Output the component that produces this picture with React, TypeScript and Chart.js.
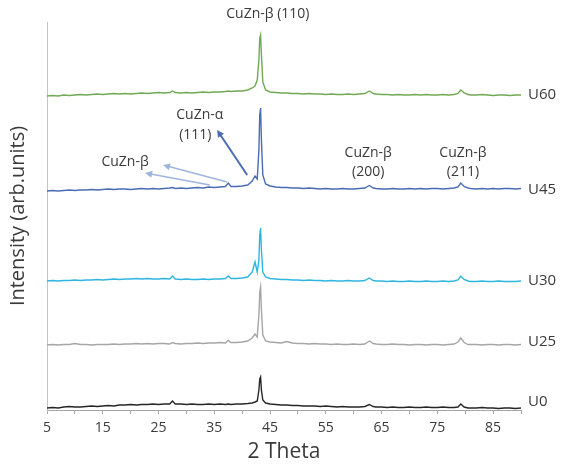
import React, { useEffect, useRef } from "react";
import { Chart, registerables } from "chart.js";

Chart.register(...registerables);

// 2θ positions shared by all patterns
const twoTheta = [
  5, 6, 7, 8, 9, 10, 11, 12, 13, 14, 15, 16, 17, 18, 19, 20, 21, 22, 23, 24, 25, 26, 27,
  27.5,
  28, 29, 30, 31, 32, 33, 34, 35, 36, 37,
  37.5,
  38, 39, 40, 41,
  41.8, 42.3, 42.7, 43.0, 43.15, 43.3, 43.45, 43.7, 44.2,
  45, 46, 47, 48, 49, 50, 51, 52, 53, 54, 55, 56, 57, 58, 59, 60, 61, 62,
  62.8, 63.5,
  64, 65, 66, 67, 68, 69, 70, 71, 72, 73, 74, 75, 76, 77, 78,
  78.7, 79.2, 79.8, 80.5,
  81, 82, 83, 84, 85, 86, 87, 88, 89, 90,
];

// stacked intensities (arb. units, offset patterns as plotted)
const u60 = [
  314, 314.5, 314, 315, 314.5, 315, 315.5, 315, 315.5, 316, 315.5, 316, 316.5, 316, 316.5, 316, 316.5, 317, 316.5, 317, 317.5, 317, 317.5,
  319,
  317.5, 317, 317.5, 317, 317.5, 318, 317.5, 318, 318, 318.5,
  319,
  318.5, 319, 319, 320,
  322, 324, 330, 350, 372, 375, 355, 328, 320,
  318, 317.5, 317, 317, 316.5, 316.5, 316, 316.5, 316, 316, 315.5, 316, 315.5, 315.5, 316, 315.5, 316, 316.5,
  319, 316.5,
  316, 315.5, 315.5, 315, 315.5, 315, 315, 315.5, 315, 315.5, 315, 315, 315.5, 315, 315.5,
  316.5, 320, 317, 315.5,
  315, 315, 315.5, 315, 314.5, 315, 315, 314.5, 315, 315,
];
const u45 = [
  219, 219.5, 219, 219.5, 220, 219.5, 220, 220, 220.5, 220, 220.5, 221, 220.5, 221, 221, 220.5, 221, 221.5, 221, 221.5, 221, 221.5, 222,
  222.5,
  221.5, 222, 221.5, 222, 222.5, 222, 223, 222.5, 223, 223.5,
  227,
  223.5, 223.5, 224, 225,
  229, 234, 231, 260, 295, 302, 270, 235, 226,
  224, 223, 222.5, 222.5, 222, 222, 221.5, 222, 221.5, 221, 221.5, 221, 221, 221.5, 221, 221, 221.5, 222,
  224.5, 222,
  221.5, 221, 221, 221.5, 221, 221, 221.5, 221, 221.5, 221, 221.5, 221.5, 221, 221.5, 222,
  223, 227, 223.5, 222,
  221.5, 221, 221.5, 221, 221.5, 221, 221.5, 221.5, 221, 221.5,
];
const u30 = [
  129, 129.5, 129, 129.5, 129.5, 130, 129.5, 130, 130, 130.5, 130, 130.5, 131, 130.5, 131, 131, 131.5, 131, 131.5, 131, 131, 131.5, 131,
  134,
  131, 130.5, 131, 130.5, 130.5, 131, 130.5, 131, 131, 131.5,
  134,
  131.5, 131.5, 132, 133,
  138, 148, 138, 150, 175, 182, 160, 138, 133,
  131.5, 131, 130.5, 130.5, 130, 130, 129.5, 130, 129.5, 129.5, 129, 129.5, 129, 129, 129.5, 129, 129, 129.5,
  132, 129.5,
  129, 129, 128.5, 129, 128.5, 128.5, 129, 128.5, 128.5, 129, 128.5, 128.5, 129, 128.5, 129,
  130, 134, 130.5, 129,
  128.5, 128.5, 129, 128.5, 128.5, 129, 128.5, 128.5, 128.5, 129,
];
const u25 = [
  65, 65.5, 65, 65.5, 65.5, 66.5, 65.5, 65.5, 65, 65.5, 65.5, 65.5, 66, 65.5, 66, 66, 66.5, 66, 66.5, 66, 66.5, 66.5, 66,
  67.5,
  66.5, 66, 66.5, 66.5, 67, 66.5, 67, 67, 67.5, 67,
  69.5,
  67.5, 67.5, 68, 69,
  72, 76, 73, 95, 118, 123, 100, 75, 69,
  68, 67.5, 67, 68.5, 67, 66.5, 66.5, 66, 66.5, 66, 66, 65.5, 66, 65.5, 65.5, 66, 65.5, 66,
  69, 66.5,
  66, 65.5, 65.5, 66, 65.5, 65.5, 65, 65.5, 65.5, 65, 65.5, 65.5, 65, 65.5, 66,
  68, 72, 67.5, 65.5,
  65.5, 65.5, 65, 65.5, 65.5, 65, 65.5, 65.5, 65, 65.5,
];
const u0 = [
  2, 2.5, 2, 3, 3.5, 3, 3, 3.5, 4, 3.5, 4, 4.5, 4, 5, 5, 5.5, 5, 5.5, 5.5, 6, 5.5, 6, 6,
  9,
  6, 6, 5.5, 6, 5.5, 5.5, 6, 5.5, 6, 5.5,
  6,
  5.5, 6, 6, 6.5,
  7, 8, 9, 20, 31, 33, 20, 10, 7,
  6, 5.5, 5, 5, 4.5, 4.5, 4, 4, 4, 3.5, 4, 3.5, 3, 3.5, 3, 3, 3, 3.5,
  5.5, 3.5,
  3, 3, 2.5, 3, 2.5, 2.5, 3, 2.5, 2.5, 3, 2.5, 2.5, 3, 2.5, 2.5,
  3, 6, 3, 2,
  2, 2, 2.5, 2, 2, 1.5, 2, 2, 1.5, 2,
];

const seriesNames = ["U60", "U45", "U30", "U25", "U0"];
const seriesValues = [u60, u45, u30, u25, u0];
const seriesColors = ["#72a955", "#4a6cb3", "#2fb6e0", "#a6a6a6", "#262626"];
const labelLevels = [315, 220, 129, 68, 8];

const xTickLabels = [5, 15, 25, 35, 45, 55, 65, 75, 85];

// peak annotations (text, 2θ, level)
const annotTexts = ["CuZn-β (110)", "CuZn-α", "(111)", "CuZn-β", "CuZn-β", "(200)", "CuZn-β", "(211)"];
const annotX = [44.6, 32.4, 31.6, 19.0, 62.6, 62.6, 79.6, 79.6];
const annotY = [396, 295, 275, 248, 257, 238, 257, 238];

// arrows (from -> to, in 2θ / level)
const arrowFromX = [40.9, 37.3, 34.2];
const arrowFromY = [235, 228, 225];
const arrowToX = [35.5, 25.8, 22.6];
const arrowToY = [280, 245, 237];
const arrowColors = ["#4a6cb3", "#9fb5de", "#9fb5de"];
const arrowWidths = [2, 1.5, 1.5];

const TEXT = "#3a3a3a";
const FONT = '"Open Sans", "DejaVu Sans", sans-serif';

const annotPlugin = {
  id: "annot",
  afterDraw(chart: any) {
    const { ctx, chartArea } = chart;
    const xs = chart.scales.x;
    const ys = chart.scales.y;
    ctx.save();
    ctx.fillStyle = TEXT;
    ctx.textBaseline = "middle";
    ctx.textAlign = "left";
    ctx.font = `15px ${FONT}`;
    seriesNames.forEach((n, i) => {
      ctx.fillText(n, chartArea.right + 7, ys.getPixelForValue(labelLevels[i]));
    });
    ctx.textAlign = "center";
    ctx.font = `14px ${FONT}`;
    annotTexts.forEach((t, i) => {
      ctx.fillText(t, xs.getPixelForValue(annotX[i]), ys.getPixelForValue(annotY[i]));
    });
    arrowFromX.forEach((_, i) => {
      const x1 = xs.getPixelForValue(arrowFromX[i]);
      const y1 = ys.getPixelForValue(arrowFromY[i]);
      const x2 = xs.getPixelForValue(arrowToX[i]);
      const y2 = ys.getPixelForValue(arrowToY[i]);
      const ang = Math.atan2(y2 - y1, x2 - x1);
      const head = 7;
      const hw = 3.5;
      ctx.strokeStyle = arrowColors[i];
      ctx.fillStyle = arrowColors[i];
      ctx.lineWidth = arrowWidths[i];
      ctx.beginPath();
      ctx.moveTo(x1, y1);
      ctx.lineTo(x2 - Math.cos(ang) * head * 0.6, y2 - Math.sin(ang) * head * 0.6);
      ctx.stroke();
      ctx.beginPath();
      ctx.moveTo(x2, y2);
      ctx.lineTo(
        x2 - Math.cos(ang) * head - Math.sin(ang) * hw,
        y2 - Math.sin(ang) * head + Math.cos(ang) * hw
      );
      ctx.lineTo(
        x2 - Math.cos(ang) * head + Math.sin(ang) * hw,
        y2 - Math.sin(ang) * head - Math.cos(ang) * hw
      );
      ctx.closePath();
      ctx.fill();
    });
    ctx.restore();
  },
};

export default function App() {
  const canvasRef = useRef<HTMLCanvasElement | null>(null);

  useEffect(() => {
    document.body.style.margin = "0";
    const canvas = canvasRef.current;
    if (!canvas) return;
    const chart = new Chart(canvas, {
      type: "line",
      data: {
        labels: twoTheta,
        datasets: seriesNames.map((name, i) => ({
          label: name,
          data: twoTheta.map((x, j) => ({ x, y: seriesValues[i][j] })),
          borderColor: seriesColors[i],
          backgroundColor: seriesColors[i],
          borderWidth: 1.4,
          pointRadius: 0,
          tension: 0,
          fill: false,
        })),
      },
      options: {
        animation: false,
        responsive: true,
        maintainAspectRatio: false,
        layout: { padding: { left: 0, right: 42, top: 22, bottom: 0 } },
        plugins: {
          legend: { display: false },
          tooltip: { enabled: false },
          title: { display: false },
        },
        scales: {
          x: {
            type: "linear",
            min: 5,
            max: 90,
            afterFit: (scale: any) => {
              scale.height = 55;
            },
            grid: {
              display: true,
              drawOnChartArea: false,
              drawTicks: true,
              tickLength: 4,
              color: "#a6a6a6",
            },
            border: { display: true, color: "#a6a6a6", width: 1 },
            ticks: {
              stepSize: 5,
              autoSkip: false,
              maxRotation: 0,
              padding: 6,
              color: TEXT,
              font: { size: 14, family: FONT },
              callback: (v: any) => (xTickLabels.includes(Number(v)) ? String(v) : ""),
            },
            title: {
              display: true,
              text: "2 Theta",
              color: TEXT,
              font: { size: 21, family: FONT },
              padding: { top: 0, bottom: 0 },
            },
          },
          y: {
            type: "linear",
            min: 0,
            max: 388,
            afterFit: (scale: any) => {
              scale.width = 47;
            },
            grid: { display: false, drawTicks: false },
            border: { display: true, color: "#c4c4c4", width: 1 },
            ticks: { display: false },
            title: {
              display: true,
              text: "Intensity (arb.units)",
              color: TEXT,
              font: { size: 20, family: FONT },
              padding: { top: 6, bottom: 17 },
            },
          },
        },
      },
      plugins: [annotPlugin],
    });
    return () => chart.destroy();
  }, []);

  return (
    <div style={{ width: 563, height: 465, position: "relative" }}>
      <canvas ref={canvasRef} />
    </div>
  );
}
